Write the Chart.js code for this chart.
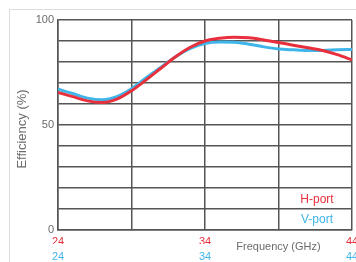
<!DOCTYPE html>
<html>
<head>
<meta charset="utf-8">
<script src="https://cdn.jsdelivr.net/npm/chart.js@4/dist/chart.umd.min.js"></script>
<style>
  html, body { margin: 0; padding: 0; background: #fff; overflow: hidden; width: 356px; height: 262px; }
  #frame { position: absolute; left: 9px; top: 9px; width: 400px; height: 300px; border: 1px solid #dcdcdc; }
  #wrap { position: absolute; left: 0; top: 0; width: 370px; height: 262px; }
</style>
</head>
<body>
<div id="frame"></div>
<div id="wrap"><canvas id="effChart"></canvas></div>
<script>
// Frequency (GHz) and efficiency (%)
const freqs = [24, 25, 26, 27, 28, 29, 30, 31, 32, 33, 34, 35, 36, 37, 38, 39, 40, 41, 42, 43, 44];
const hPort = [65.5, 63.5, 61.5, 60.7, 62.3, 66.3, 71.5, 77, 82.5, 87, 90, 91.3, 91.8, 91.5, 90.5, 89.3, 88, 86.8, 85.5, 83.5, 81];
const vPort = [67, 65, 62.8, 62, 63.5, 67.3, 72.5, 77.5, 82.5, 86.5, 88.8, 89.5, 89.4, 88.5, 87.2, 86.2, 85.8, 85.5, 85.5, 85.8, 86];
const xLabels = [24, 34, 44];
const yLabels = [0, 50, 100];

const redColor = '#e8303c';
const blueColor = '#3fb5ea';
const gridColor = '#555555';
const textGray = '#6b6b6b';
const fontFamily = '"Liberation Sans", Arial, sans-serif';

function toPoints(ys) {
    return freqs.map((f, i) => ({ x: f, y: ys[i] }));
}

// Axis titles and the in-plot legend
const textPlugin = {
    id: 'texts',
    afterDraw(chart) {
        const ctx = chart.ctx;
        const xs = chart.scales.x;
        const area = chart.chartArea;
        ctx.save();
        ctx.textAlign = 'center';
        ctx.textBaseline = 'middle';

        ctx.fillStyle = textGray;
        ctx.font = '11px ' + fontFamily;
        ctx.fillText('Frequency (GHz)', xs.getPixelForValue(39), 247);

        ctx.save();
        ctx.translate(22, 129);
        ctx.rotate(-Math.PI / 2);
        ctx.font = '13px ' + fontFamily;
        ctx.fillText('Efficiency (%)', 0, 0);
        ctx.restore();

        ctx.font = '12px ' + fontFamily;
        chart.data.datasets.forEach((ds, i) => {
            ctx.fillStyle = ds.borderColor;
            ctx.fillText(ds.label, area.right - 35, area.bottom - 30 + i * 20);
        });
        ctx.restore();
    }
};

new Chart(document.getElementById('effChart'), {
    type: 'line',
    data: {
        datasets: [{
            label: 'H-port',
            data: toPoints(hPort),
            borderColor: redColor,
            borderWidth: 3,
            pointRadius: 0,
            tension: 0.4,
            cubicInterpolationMode: 'monotone'
        }, {
            label: 'V-port',
            data: toPoints(vPort),
            borderColor: blueColor,
            borderWidth: 3,
            pointRadius: 0,
            tension: 0.4,
            cubicInterpolationMode: 'monotone'
        }]
    },
    options: {
        responsive: true,
        maintainAspectRatio: false,
        animation: false,
        layout: { padding: { top: 20, right: 18, bottom: 0, left: 0 } },
        plugins: {
            legend: { display: false },
            tooltip: { enabled: false }
        },
        scales: {
            x: {
                type: 'linear',
                position: 'bottom',
                weight: 0,
                min: 24,
                max: 44,
                grid: { color: gridColor, lineWidth: 1.5, drawTicks: false },
                border: { color: gridColor, width: 1.5 },
                ticks: {
                    stepSize: 5,
                    padding: 5,
                    maxRotation: 0,
                    color: redColor,
                    font: { size: 11, family: fontFamily },
                    callback: v => xLabels.includes(v) ? v : ''
                },
                afterFit: s => { s.height = 14; }
            },
            x2: {
                type: 'linear',
                position: 'bottom',
                weight: 1,
                min: 24,
                max: 44,
                grid: { display: false, drawTicks: false },
                border: { display: false },
                ticks: {
                    stepSize: 5,
                    padding: 6,
                    maxRotation: 0,
                    color: blueColor,
                    font: { size: 11, family: fontFamily },
                    callback: v => xLabels.includes(v) ? v : ''
                },
                afterFit: s => { s.height = 18; }
            },
            y: {
                min: 0,
                max: 100,
                grid: { color: gridColor, lineWidth: 1.5, drawTicks: false },
                border: { color: gridColor, width: 1.5 },
                ticks: {
                    stepSize: 10,
                    padding: 4,
                    color: textGray,
                    font: { size: 11, family: fontFamily },
                    callback: v => yLabels.includes(v) ? v : ''
                },
                afterFit: s => { s.width = 58; }
            }
        }
    },
    plugins: [textPlugin]
});
</script>
</body>
</html>
